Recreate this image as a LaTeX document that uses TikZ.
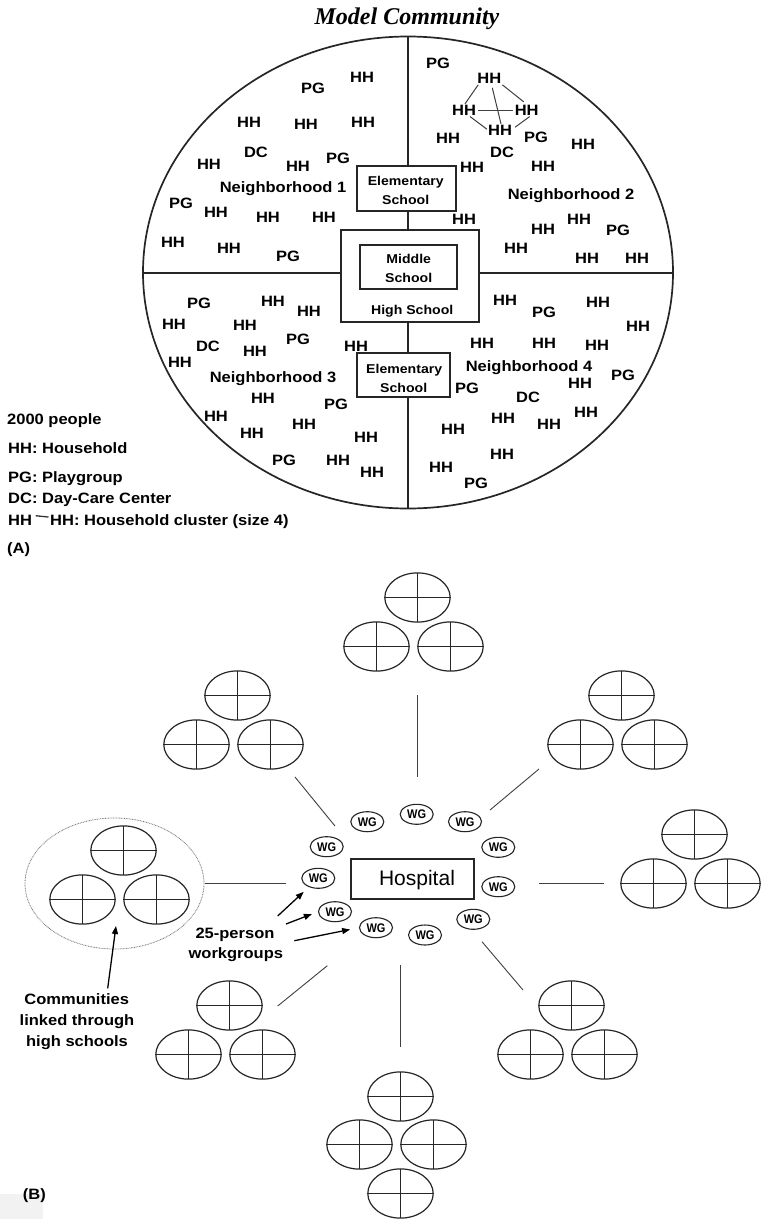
\documentclass[tikz,border=0pt]{standalone}
\usepackage{fontspec}
\setmainfont{Liberation Sans}
\newfontfamily\hv[FakeStretch=1.1]{Liberation Sans}
\newfontfamily\hvc[FakeStretch=0.88]{Liberation Sans}
\newfontfamily\tms{Liberation Serif}
\usetikzlibrary{arrows.meta,shapes.geometric}
\tikzset{
  lbl/.style={font=\hv\bfseries\fontsize{15}{18}\selectfont, inner sep=0pt, anchor=base, yshift=-5.35pt},
  leg/.style={font=\hv\bfseries\fontsize{15}{18}\selectfont, inner sep=0pt, anchor=base west},
  boxtxt/.style={font=\hv\bfseries\fontsize{12.8}{15}\selectfont, inner sep=0pt, anchor=base, yshift=-4.6pt},
  schoolbox/.style={draw=black!85, line width=1.1pt, inner sep=0pt},
  aline/.style={line width=1.5pt, draw=black!85},
  cline/.style={line width=1.2pt, draw=black!85},
  link/.style={line width=0.9pt, draw=black!75},
  wg/.style={ellipse, draw=black!85, line width=1.1pt, minimum width=33pt, minimum height=20pt, inner sep=0pt, font=\hvc\bfseries\fontsize{12.5}{14}\selectfont},
  arr/.style={-{Triangle[length=8pt,width=6pt]}, line width=1.3pt, draw=black},
  comm/.pic={\draw[cline] (0,0) ellipse [x radius=32.7, y radius=24.6];
             \draw[cline] (-32.7,0) -- (32.7,0) (0,-24.6) -- (0,24.6);},
  tri/.pic={\path (0,0) pic {comm} (-41,49) pic {comm} (33,49) pic {comm};},
  quad/.pic={\path (0,0) pic {comm} (-41,48) pic {comm} (33,48) pic {comm} (0,97) pic {comm};}
}
\begin{document}
\begin{tikzpicture}[x=1pt,y=-1pt]
\useasboundingbox (0,0) rectangle (762,1219);
\fill[white] (0,0) rectangle (762,1219);

% ---------------- Part A ----------------
\node[font=\tms\bfseries\itshape\fontsize{24}{28}\selectfont, inner sep=0pt, anchor=base] (title) at (407,24.5) {Model Community};

\draw[aline, line width=1.7pt] (408,272.5) ellipse [x radius=265, y radius=236];

\node[schoolbox, minimum width=99pt, minimum height=45pt] (es1) at (406.5,188.5) {};
\node[schoolbox, minimum width=138pt, minimum height=92pt] (hs) at (410,276) {};
\node[schoolbox, minimum width=97pt, minimum height=44pt] (ms) at (408.5,267) {};
\node[schoolbox, minimum width=93pt, minimum height=44pt] (es2) at (403.5,375) {};

\node[boxtxt] (es1a) at (405.8,180.7) {Elementary};
\node[boxtxt] (es1b) at (405.7,200) {School};
\node[boxtxt] (msa) at (408.7,259) {Middle};
\node[boxtxt] (msb) at (408.7,278.3) {School};
\node[boxtxt] (hsa) at (412.2,310) {High School};
\node[boxtxt] (es2a) at (404.2,369.3) {Elementary};
\node[boxtxt] (es2b) at (403.7,387.7) {School};

\coordinate (etop) at (408,36.5);
\coordinate (ebot) at (408,508.5);
\coordinate (eleft) at (143,273);
\coordinate (eright) at (673,273);
\draw[aline] (etop) -- (etop |- es1.north);
\draw[aline] (es1.south -| etop) -- (hs.north -| etop);
\draw[aline] (hs.south -| etop) -- (es2.north -| etop);
\draw[aline] (es2.south -| etop) -- (ebot);
\draw[aline] (eleft) -- (eleft -| hs.west);
\draw[aline] (hs.east |- eright) -- (eright);

% Neighborhood 1
\foreach \x/\y/\t [count=\i] in {313/88/PG, 362/77/HH, 249/122/HH, 306/124/HH, 363/122/HH, 256/152/DC, 209/164/HH, 298/166/HH, 338/158/PG, 283/187/Neighborhood 1, 181/203/PG, 216/212/HH, 268/217/HH, 324/217/HH, 173/242/HH, 229/248/HH, 288/256/PG}
  \node[lbl] (na\i) at (\x,\y) {\t};
% Neighborhood 2
\foreach \x/\y/\t [count=\i] in {438/63/PG, 448/138/HH, 536/137/PG, 583/144/HH, 502/152/DC, 472/167/HH, 543/166/HH, 571/194/Neighborhood 2, 464/219/HH, 543/229/HH, 579/219/HH, 618/230/PG, 516/248/HH, 587/258/HH, 637/258/HH}
  \node[lbl] (nb\i) at (\x,\y) {\t};
% household cluster
\node[lbl] (c1) at (489.3,78.3) {HH};
\node[lbl] (c2) at (464,110) {HH};
\node[lbl] (c3) at (526.7,110) {HH};
\node[lbl] (c4) at (500,130) {HH};
\draw[link, line width=1pt] ([xshift=1pt,yshift=-1pt]c1.south west) -- ([xshift=1pt,yshift=1pt]c2.north);
\draw[link, line width=1pt] ([xshift=1pt,yshift=-1pt]c1.south east) -- ([xshift=-3pt,yshift=3pt]c3.north);
\draw[link, line width=1pt] ([xshift=2pt]c2.east) -- ([xshift=-2pt]c3.west);
\draw[link, line width=1pt] ([xshift=3pt,yshift=-4pt]c1.south) -- ([xshift=1pt,yshift=1pt]c4.north);
\draw[link, line width=1pt] ([xshift=6pt,yshift=-1pt]c2.south) -- ([xshift=-1pt,yshift=1pt]c4.west);
\draw[link, line width=1pt] ([xshift=3pt,yshift=-1pt]c3.south) -- ([xshift=3pt,yshift=3pt]c4.east);
% Neighborhood 3
\foreach \x/\y/\t [count=\i] in {199/303/PG, 273/301/HH, 309/311/HH, 174/324/HH, 245/325/HH, 298/339/PG, 356/346/HH, 208/346/DC, 255/351/HH, 180/362/HH, 273/377/Neighborhood 3, 263/398/HH, 336/404/PG, 216/416/HH, 252/433/HH, 304/424/HH, 366/437/HH, 284/460/PG, 338/460/HH, 372/472/HH}
  \node[lbl] (nc\i) at (\x,\y) {\t};
% Neighborhood 4
\foreach \x/\y/\t [count=\i] in {505/300/HH, 544/312/PG, 598/302/HH, 638/326/HH, 482/343/HH, 544/343/HH, 597/345/HH, 529/366/Neighborhood 4, 623/375/PG, 580/383/HH, 467/388/PG, 528/397/DC, 586/412/HH, 503/418/HH, 549/424/HH, 453/429/HH, 502/454/HH, 441/467/HH, 476/483/PG}
  \node[lbl] (nd\i) at (\x,\y) {\t};

% legend
\node[leg] (lg1) at (7,424.5) {2000 people};
\node[leg] (lg2) at (8,453.4) {HH: Household};
\node[leg] (lg3) at (8,482.4) {PG: Playgroup};
\node[leg] (lg4) at (8,503.7) {DC: Day-Care Center};
\node[leg] (lg5a) at (8,525.4) {HH};
\node[leg] (lg5b) at (50,525.4) {HH: Household cluster (size 4)};
\draw[line width=1.3pt, black!80] ([xshift=3.5pt,yshift=4.5pt]lg5a.east) -- ([xshift=-1.5pt,yshift=4.5pt]lg5b.west);
\node[leg] (la) at (7,553) {(A)};

% ---------------- Part B ----------------
\path (417.5,597.5) pic {tri};
\path (237.5,695.5) pic {tri};
\path (621.5,695.5) pic {tri};
\path (694.5,834.5) pic {tri};
\path (123.5,850.5) pic {tri};
\path (229.5,1005.5) pic {tri};
\path (571.5,1005.5) pic {tri};
\path (400.5,1096.5) pic {quad};

\node[draw=black!55, line width=0.8pt, dash pattern=on 0.8pt off 0.8pt, ellipse, minimum width=179pt, minimum height=131pt, inner sep=0pt] (hsring) at (114.5,883.5) {};

\coordinate (nA) at (417.5,695);   \coordinate (nB) at (417.5,777);
\coordinate (nwA) at (295,777);  \coordinate (nwB) at (335,826);
\coordinate (neA) at (539,769);  \coordinate (neB) at (490,810);
\coordinate (eA) at (539,883.5); \coordinate (eB) at (604.3,883.5);
\coordinate (wA) at (205,883.5); \coordinate (wB) at (286,883.5);
\coordinate (seA) at (482,941.7); \coordinate (seB) at (523,990);
\coordinate (swA) at (327.3,965.7); \coordinate (swB) at (277.7,1006);
\coordinate (sA) at (400.5,965); \coordinate (sB) at (400.5,1046.7);
\foreach \a/\b in {nA/nB, nwA/nwB, neA/neB, eA/eB, wA/wB, seA/seB, swA/swB, sA/sB}
  \draw[link] (\a) -- (\b);

\node[draw=black!85, line width=1.2pt, minimum width=123pt, minimum height=40pt, inner sep=0pt] (hosp) at (412.5,879) {};
\node[font=\fontsize{21}{24}\selectfont, inner sep=0pt, anchor=base] (hosptxt) at (417,885.5) {Hospital};

\foreach \x/\y [count=\i] in {367.3/821.7, 416.7/814.3, 465/821.7, 326.7/846.7, 498.3/847.3, 318.3/878.3, 498.3/886.7, 335/911.7, 473.3/919.3, 376/927.7, 425/935}
  \node[wg] (wg\i) at (\x,\y) {WG};

\node[lbl] (wp1) at (235,932.7) {25-person};
\node[lbl] (wp2) at (235.8,952.7) {workgroups};
\coordinate (ar1) at (277.7,916);
\coordinate (ar2) at (286,924);
\coordinate (ar3) at (294.3,940.7);
\draw[arr, shorten >=7pt] (ar1) -- (wg6);
\draw[arr, shorten >=6.5pt] (ar2) -- (wg8.west);
\draw[arr, shorten >=9pt] (ar3) -- (wg10.west);

\node[lbl] (cm1) at (76.7,999) {Communities};
\node[lbl] (cm2) at (77,1020) {linked through};
\node[lbl] (cm3) at (77,1041) {high schools};
\coordinate (ca) at (107.7,988.3);
\coordinate (cb) at (116,926);
\draw[arr] (ca) -- (cb);

\fill[black!5] (0,1194) rectangle (43,1219);
\node[leg] (lb) at (22.7,1199.7) {(B)};
\end{tikzpicture}
\end{document}
